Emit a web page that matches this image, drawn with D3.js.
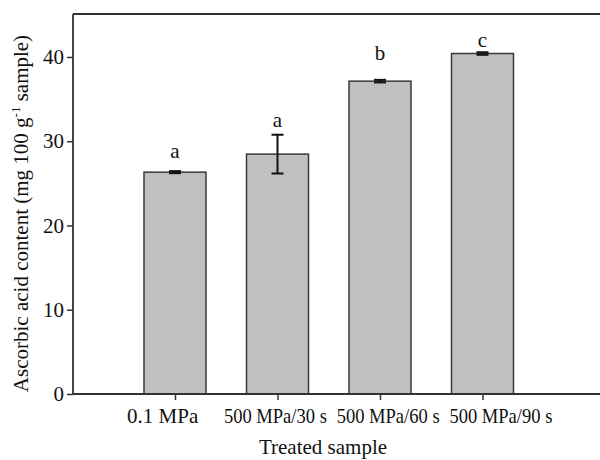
<!DOCTYPE html>
<html>
<head>
<meta charset="utf-8">
<script src="https://cdn.jsdelivr.net/npm/d3@7"></script>
<style>
    body { margin: 0; background: #fff; }
    svg { display: block; }
    text { font-family: "Liberation Serif", "Times New Roman", serif; fill: #111; }
</style>
</head>
<body>
<svg width="600" height="460"></svg>
<script>
    // data
    let samples = ["0.1 MPa", "500 MPa/30 s", "500 MPa/60 s", "500 MPa/90 s"];
    let means = [26.33, 28.47, 37.13, 40.41];
    let errors = [0.12, 2.3, 0.15, 0.15];
    let letters = ["a", "a", "b", "c"];
    let letterAt = [28.0, 31.7, 39.6, 41.2];
    let yTicks = [0, 10, 20, 30, 40];

    let margin = { top: 14, right: 0, bottom: 66, left: 73 };
    let width = 600;
    let height = 460;
    let barWidth = 62;
    let fontSize = "21px";

    let svg = d3.select("svg");

    let x = d3.scalePoint()
        .domain(samples)
        .range([175, 482.5]);

    let y = d3.scaleLinear()
        .domain([0, 45.1])
        .range([height - margin.bottom, margin.top]);

    // bars
    svg.append("g")
        .selectAll("rect")
        .data(samples)
        .join("rect")
        .attr("x", d => x(d) - barWidth / 2)
        .attr("y", (d, i) => y(means[i]))
        .attr("width", barWidth)
        .attr("height", (d, i) => y(0) - y(means[i]))
        .style("fill", "#c0c0c0")
        .style("stroke", "#3a3a3a")
        .style("stroke-width", 1.5);

    // error bars
    let err = svg.append("g")
        .selectAll("g")
        .data(samples)
        .join("g")
        .style("stroke", "#111")
        .style("stroke-width", 2);

    err.append("line")
        .attr("x1", d => x(d))
        .attr("x2", d => x(d))
        .attr("y1", (d, i) => y(means[i] - errors[i]))
        .attr("y2", (d, i) => y(means[i] + errors[i]));

    err.append("line")
        .attr("x1", d => x(d) - 6)
        .attr("x2", d => x(d) + 6)
        .attr("y1", (d, i) => y(means[i] + errors[i]))
        .attr("y2", (d, i) => y(means[i] + errors[i]));

    err.append("line")
        .attr("x1", d => x(d) - 6)
        .attr("x2", d => x(d) + 6)
        .attr("y1", (d, i) => y(means[i] - errors[i]))
        .attr("y2", (d, i) => y(means[i] - errors[i]));

    // significance letters
    svg.append("g")
        .selectAll("text")
        .data(samples)
        .join("text")
        .attr("x", d => x(d))
        .attr("y", (d, i) => y(letterAt[i]))
        .attr("text-anchor", "middle")
        .style("font-size", fontSize)
        .text((d, i) => letters[i]);

    // axes
    let yAxis = svg.append("g")
        .attr("transform", `translate(${margin.left},0)`)
        .call(d3.axisLeft(y).tickValues(yTicks).tickSize(6).tickPadding(3).tickSizeOuter(0));

    let xAxis = svg.append("g")
        .attr("transform", `translate(0,${height - margin.bottom})`)
        .call(d3.axisBottom(x).tickSize(6).tickPadding(8).tickSizeOuter(0));

    [yAxis, xAxis].forEach(a => {
        a.select(".domain").remove();
        a.selectAll(".tick line").style("stroke", "#333").style("stroke-width", 1.5);
        a.selectAll(".tick text")
            .style("font-family", "'Liberation Serif', serif")
            .style("font-size", fontSize)
            .style("fill", "#111");
    });

    // the long category labels are set narrow in the original, and spread a bit wider than the ticks
    xAxis.selectAll(".tick text")
        .attr("x", d => (x(d) - 328.75) * 0.1 + 2.5)
        .each(function () {
            if (this.getComputedTextLength() > 104) {
                d3.select(this).attr("textLength", 103).attr("lengthAdjust", "spacingAndGlyphs");
            }
        });

    // frame lines: left, bottom, top
    let frame = svg.append("g")
        .style("stroke", "#333")
        .style("stroke-width", 1.8);
    frame.append("line")
        .attr("x1", margin.left).attr("x2", margin.left)
        .attr("y1", y(45.1)).attr("y2", y(0));
    frame.append("line")
        .attr("x1", margin.left).attr("x2", width)
        .attr("y1", y(0)).attr("y2", y(0));
    frame.append("line")
        .attr("x1", margin.left).attr("x2", width)
        .attr("y1", y(45.1)).attr("y2", y(45.1));

    // axis titles
    svg.append("text")
        .attr("x", 323)
        .attr("y", 454)
        .attr("text-anchor", "middle")
        .style("font-size", fontSize)
        .text("Treated sample");

    let yTitle = svg.append("text")
        .attr("transform", `translate(28,${(35 + 392) / 2}) rotate(-90)`)
        .attr("text-anchor", "middle")
        .style("font-size", fontSize);
    yTitle.append("tspan").text("Ascorbic acid content (mg 100 g");
    yTitle.append("tspan")
        .attr("dy", -8)
        .style("font-size", "13px")
        .text("-1");
    yTitle.append("tspan")
        .attr("dy", 8)
        .text(" sample)");
    if (yTitle.node().getComputedTextLength() > 358) {
        yTitle.attr("textLength", 357).attr("lengthAdjust", "spacingAndGlyphs");
    }
</script>
</body>
</html>
